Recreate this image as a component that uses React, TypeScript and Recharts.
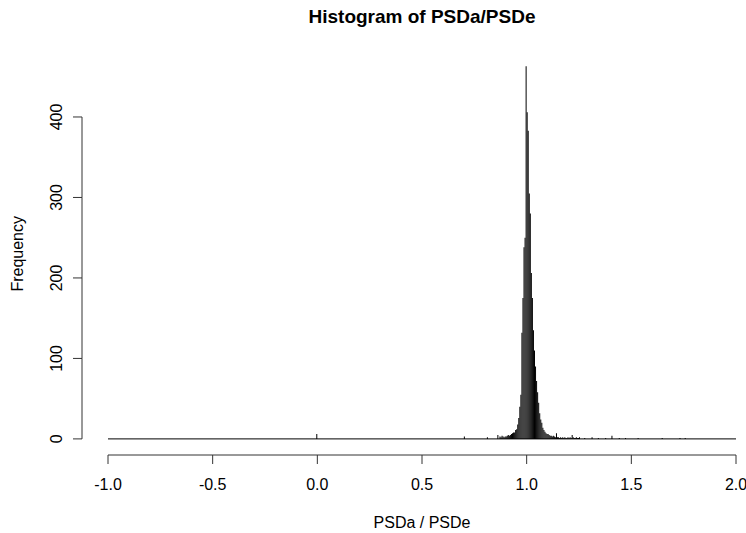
import { ComposedChart, Bar, XAxis, YAxis, ReferenceLine } from 'recharts';

// histogram of PSDa/PSDe, bins of 0.005 from -1 to 2
const BIN_WIDTH = 0.005;
const X_MIN = -1;
const X_MAX = 2;
const X_TICKS = [-1, -0.5, 0, 0.5, 1, 1.5, 2];
const Y_TICKS = [0, 100, 200, 300, 400];

// consecutive bins around the peak, first bin starts at PEAK_START
const PEAK_START = 0.87;
const PEAK_COUNTS = [
  3, 2, 4, 3, 2, 3,
  3, 4, 5, 4, 5, 6, 7, 8, 8, 11, 12, 18, 26, 40, 55, 132, 175, 238, 250,
  463, 406, 383, 305, 280, 206, 175, 135, 110, 90, 72, 58, 45, 32, 24, 20,
  14, 11, 9, 7, 6, 6, 5, 4, 4, 3, 4, 3, 2, 7, 2, 2, 1, 2, 1, 2, 1, 2, 1, 1,
  2, 1, 2, 1, 5, 2, 1, 1, 2, 1, 1, 2,
];

// isolated bins elsewhere (lower edge, count)
const SCATTER_EDGES = [-0.005, 0.7, 0.81, 0.86, 1.275, 1.31, 1.34, 1.375, 1.405, 1.44, 1.47, 1.53, 1.645, 1.73, 1.755];
const SCATTER_COUNTS = [6, 3, 2, 5, 1, 2, 1, 1, 4, 1, 1, 1, 1, 1, 1];

const N_BINS = Math.round((X_MAX - X_MIN) / BIN_WIDTH);

const buildBins = () => {
  const counts: number[] = new Array(N_BINS).fill(0);
  const start = Math.round((PEAK_START - X_MIN) / BIN_WIDTH);
  PEAK_COUNTS.forEach((c, i) => {
    counts[start + i] = c;
  });
  SCATTER_EDGES.forEach((edge, i) => {
    counts[Math.round((edge - X_MIN) / BIN_WIDTH)] = SCATTER_COUNTS[i];
  });
  return counts.map((count, i) => ({
    bin: i,
    x: X_MIN + (i + 0.5) * BIN_WIDTH,
    count,
  }));
};

const bins = buildBins();

const W = 746;
const H = 533;
const TOP = 52.6;
const X_AXIS_H = 78;
const Y_AXIS_W = 108;
const Y_DOMAIN: [number, number] = [-20, 480];
const PLOT_H = H - TOP - X_AXIS_H;
const TICK_STEP_PX = (PLOT_H * 100) / (Y_DOMAIN[1] - Y_DOMAIN[0]);

const FONT = '"Liberation Sans", Arial, Helvetica, sans-serif';
const AXIS_COLOR = '#333';

// R style y axis: line only between first and last tick, rotated labels
const YTick = (props: any) => {
  const { y, payload } = props;
  const axisX = 82;
  return (
    <g>
      <line x1={axisX - 9} x2={axisX} y1={y} y2={y} stroke={AXIS_COLOR} />
      {payload.value < 400 && (
        <line x1={axisX} x2={axisX} y1={y} y2={y - TICK_STEP_PX} stroke={AXIS_COLOR} />
      )}
      <text
        x={62}
        y={y}
        transform={`rotate(-90, 62, ${y})`}
        textAnchor="middle"
        fontSize={16}
        fontFamily={FONT}
        fill="#000"
      >
        {payload.value}
      </text>
    </g>
  );
};

export default function App() {
  return (
    <div style={{ position: 'relative', width: W, height: H, background: '#fff' }}>
      <style>{'body{margin:0}'}</style>
      <div
        style={{
          position: 'absolute',
          left: 222,
          width: 400,
          top: 6,
          textAlign: 'center',
          fontFamily: FONT,
          fontWeight: 'bold',
          fontSize: 19,
          lineHeight: '22px',
          color: '#000',
        }}
      >
        Histogram of PSDa/PSDe
      </div>
      <ComposedChart
        width={W}
        height={H}
        data={bins}
        margin={{ top: TOP, right: 10, bottom: 0, left: 0 }}
        barCategoryGap={0}
        barGap={0}
      >
        <XAxis xAxisId="cat" dataKey="bin" type="category" hide height={0} />
        <XAxis
          xAxisId="num"
          dataKey="x"
          type="number"
          domain={[X_MIN, X_MAX]}
          allowDataOverflow
          ticks={X_TICKS}
          interval={0}
          tickFormatter={(v: number) => v.toFixed(1)}
          height={X_AXIS_H}
          tickSize={9}
          tickMargin={15}
          axisLine={{ stroke: AXIS_COLOR }}
          tickLine={{ stroke: AXIS_COLOR }}
          tick={{ fill: '#000', fontSize: 16, fontFamily: FONT }}
          label={{
            value: 'PSDa / PSDe',
            position: 'insideBottom',
            offset: 5,
            fill: '#000',
            fontSize: 16,
            fontFamily: FONT,
          }}
        />
        <YAxis
          type="number"
          domain={Y_DOMAIN}
          allowDataOverflow
          ticks={Y_TICKS}
          interval={0}
          width={Y_AXIS_W}
          axisLine={false}
          tickLine={false}
          tick={<YTick />}
          label={{
            value: 'Frequency',
            angle: -90,
            position: 'center',
            dx: -37,
            fill: '#000',
            fontSize: 16,
            fontFamily: FONT,
          }}
        />
        <Bar xAxisId="cat" dataKey="count" fill="#000" isAnimationActive={false} />
        <ReferenceLine xAxisId="num" y={0} stroke="#000" strokeWidth={1} />
      </ComposedChart>
    </div>
  );
}
